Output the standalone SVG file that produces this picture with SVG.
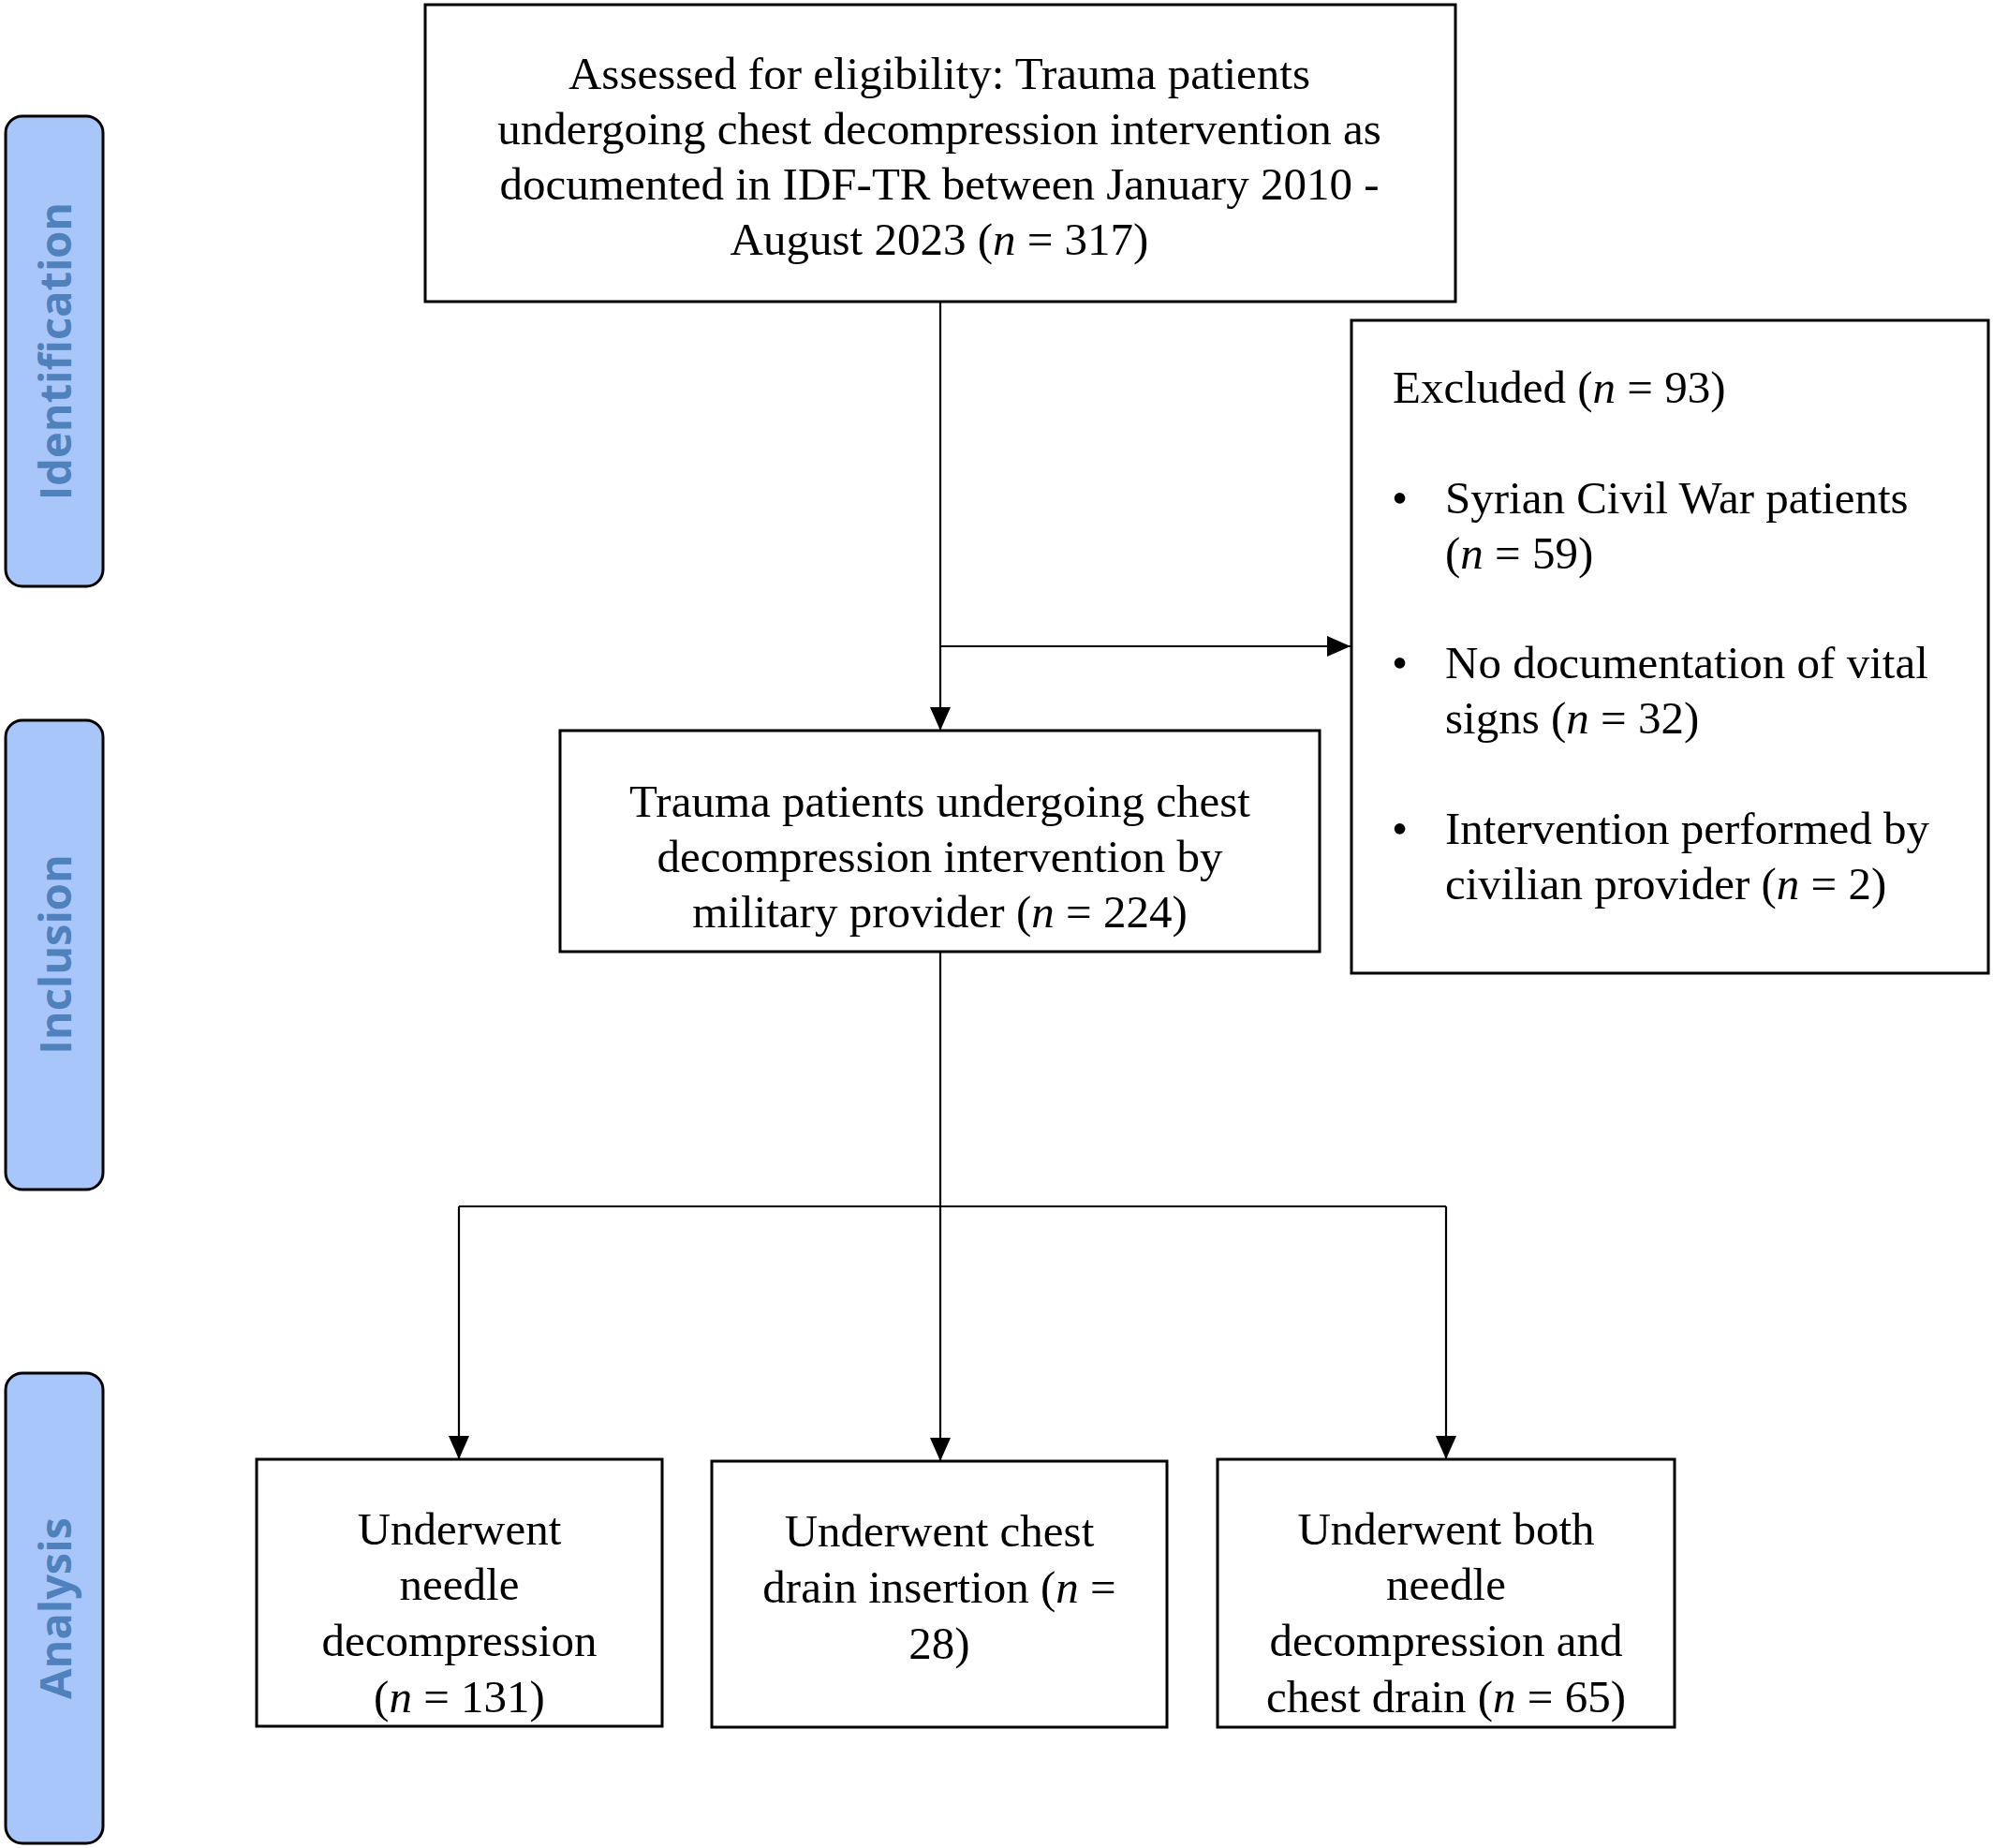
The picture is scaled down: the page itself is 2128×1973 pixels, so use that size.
<svg xmlns="http://www.w3.org/2000/svg" width="2128" height="1973" viewBox="0 0 2128 1973">
<style>
.box{fill:#fff;stroke:#000;stroke-width:3}
.band{fill:#a9c6fb;stroke:#000;stroke-width:3}
.bt{font-family:"Open Sans","DejaVu Sans",sans-serif;font-weight:bold;font-size:47px;fill:#4f81bd;text-anchor:middle}
.t{font-family:"Liberation Serif","Times New Roman",serif;font-size:49px;fill:#000}
.c{text-anchor:middle}
.con{fill:none;stroke:#000;stroke-width:2.2}
</style>
<defs>
<marker id="ah" markerUnits="userSpaceOnUse" markerWidth="25" markerHeight="22" refX="25" refY="11" orient="auto">
<path d="M0,0 L25,11 L0,22 z" fill="#000"/>
</marker>
</defs>
<rect width="2128" height="1973" fill="#fff"/>
<g id="band-identification">
<rect class="band" x="6" y="124" width="104" height="502" rx="18"/>
<text class="bt" transform="translate(76,375) rotate(-90)">Identification</text>
</g>
<g id="band-inclusion">
<rect class="band" x="6" y="769" width="104" height="501" rx="18"/>
<text class="bt" transform="translate(76,1019) rotate(-90)">Inclusion</text>
</g>
<g id="band-analysis">
<rect class="band" x="6" y="1466" width="104" height="502" rx="18"/>
<text class="bt" transform="translate(76,1717) rotate(-90)">Analysis</text>
</g>
<g id="connectors">
<path class="con" d="M1004,322 L1004,780" marker-end="url(#ah)"/>
<path class="con" d="M1004,690 L1442,690" marker-end="url(#ah)"/>
<path class="con" d="M1004,1016 L1004,1560" marker-end="url(#ah)"/>
<path class="con" d="M490,1288 L1544,1288"/>
<path class="con" d="M490,1288 L490,1558" marker-end="url(#ah)"/>
<path class="con" d="M1544,1288 L1544,1558" marker-end="url(#ah)"/>
</g>
<g id="node-assessed">
<rect class="box" x="454" y="5" width="1100" height="317"/>
<text class="t c" x="1003" y="95">Assessed for eligibility: Trauma patients</text>
<text class="t c" x="1003" y="154">undergoing chest decompression intervention as</text>
<text class="t c" x="1003" y="213">documented in IDF-TR between January 2010 -</text>
<text class="t c" x="1003" y="272">August 2023 (<tspan font-style="italic">n</tspan> = 317)</text>
</g>
<g id="node-excluded">
<rect class="box" x="1443" y="342" width="680" height="697"/>
<text class="t" x="1487" y="430">Excluded (<tspan font-style="italic">n</tspan> = 93)</text>
<text class="t" x="1486" y="548">•</text>
<text class="t" x="1543" y="548">Syrian Civil War patients</text>
<text class="t" x="1543" y="607">(<tspan font-style="italic">n</tspan> = 59)</text>
<text class="t" x="1486" y="724">•</text>
<text class="t" x="1543" y="724">No documentation of vital</text>
<text class="t" x="1543" y="783">signs (<tspan font-style="italic">n</tspan> = 32)</text>
<text class="t" x="1486" y="901">•</text>
<text class="t" x="1543" y="901">Intervention performed by</text>
<text class="t" x="1543" y="960">civilian provider (<tspan font-style="italic">n</tspan> = 2)</text>
</g>
<g id="node-included">
<rect class="box" x="598" y="780" width="811" height="236"/>
<text class="t c" x="1003.5" y="872">Trauma patients undergoing chest</text>
<text class="t c" x="1003.5" y="931">decompression intervention by</text>
<text class="t c" x="1003.5" y="990">military provider (<tspan font-style="italic">n</tspan> = 224)</text>
</g>
<g id="node-needle">
<rect class="box" x="274" y="1558" width="433" height="285"/>
<text class="t c" x="490.5" y="1649">Underwent</text>
<text class="t c" x="490.5" y="1708">needle</text>
<text class="t c" x="490.5" y="1768">decompression</text>
<text class="t c" x="490.5" y="1828">(<tspan font-style="italic">n</tspan> = 131)</text>
</g>
<g id="node-drain">
<rect class="box" x="760" y="1560" width="486" height="284"/>
<text class="t c" x="1003" y="1651">Underwent chest</text>
<text class="t c" x="1003" y="1711">drain insertion (<tspan font-style="italic">n</tspan> =</text>
<text class="t c" x="1003" y="1771">28)</text>
</g>
<g id="node-both">
<rect class="box" x="1300" y="1558" width="488" height="286"/>
<text class="t c" x="1544" y="1649">Underwent both</text>
<text class="t c" x="1544" y="1708">needle</text>
<text class="t c" x="1544" y="1768">decompression and</text>
<text class="t c" x="1544" y="1828">chest drain (<tspan font-style="italic">n</tspan> = 65)</text>
</g>
</svg>
